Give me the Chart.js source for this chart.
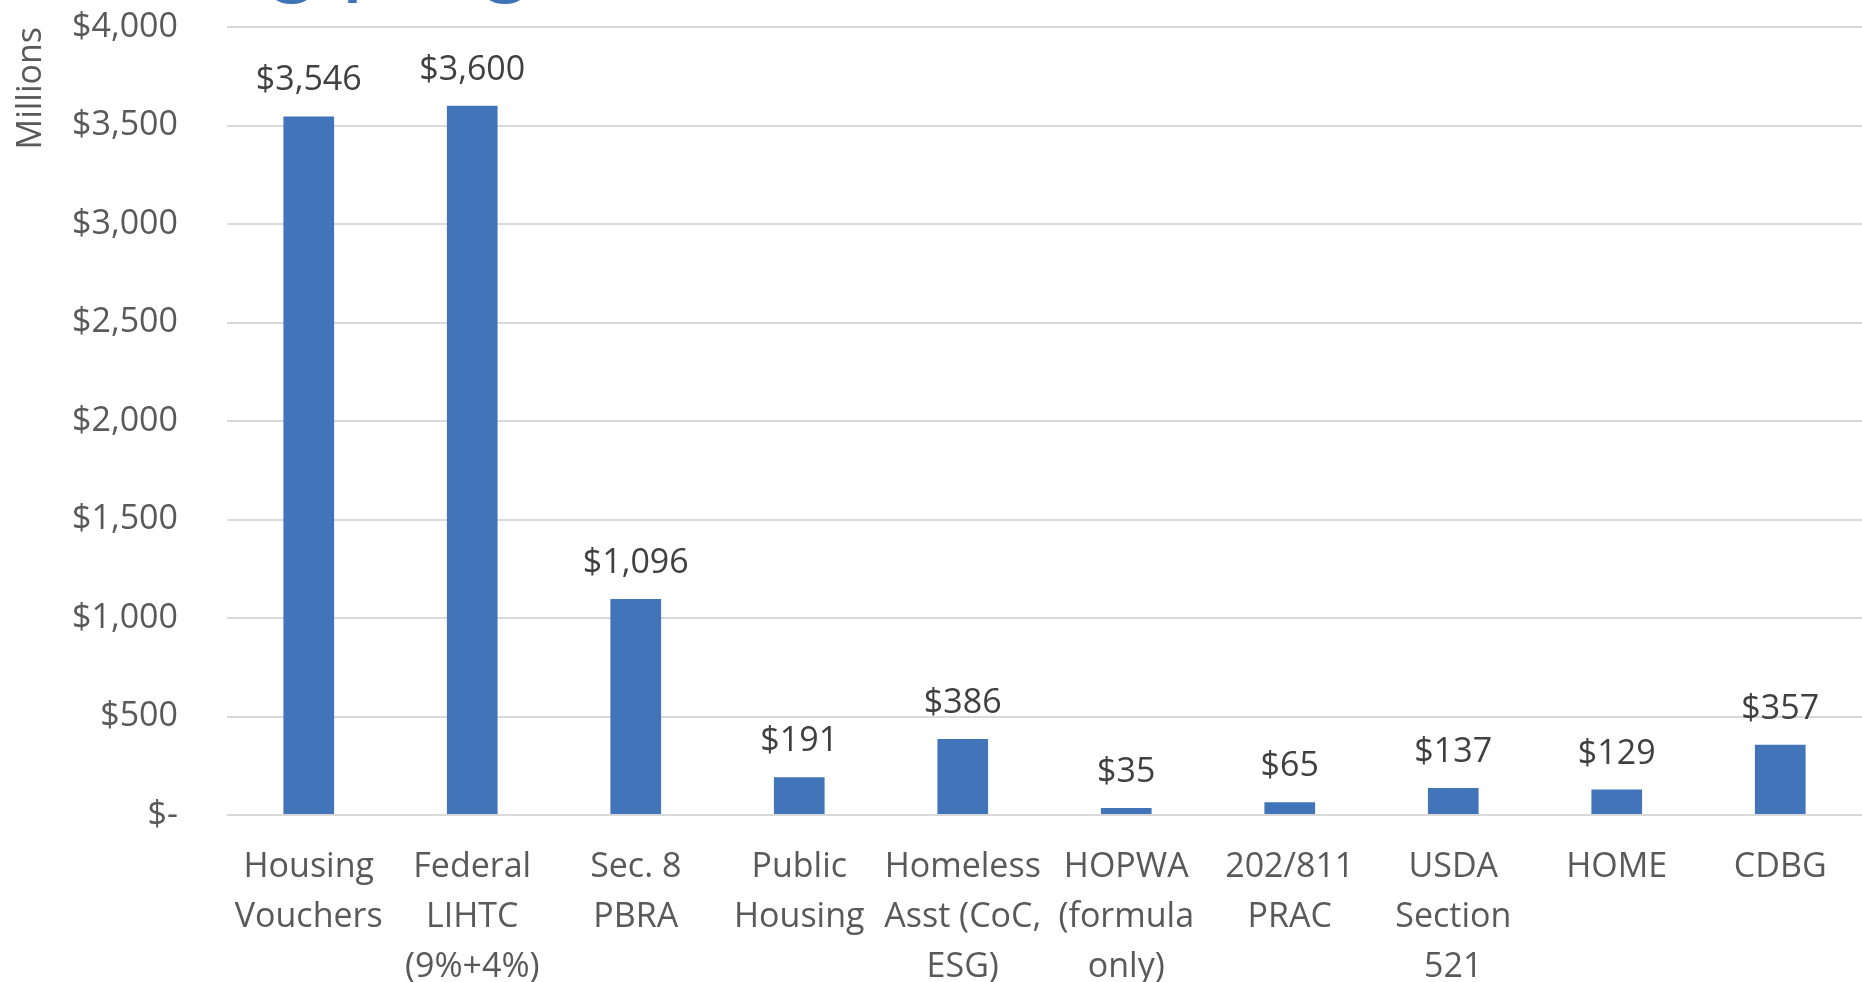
<!DOCTYPE html>
<html>
<head>
<meta charset="utf-8">
<script src="https://cdn.jsdelivr.net/npm/chart.js@4.4.1/dist/chart.umd.min.js"></script>
<style>
    body { margin: 0; overflow: hidden; background: #fff; }
    #wrap { position: relative; width: 1862px; height: 982px; overflow: hidden; }
    #slide-title {
        position: absolute; left: -27px; top: -97px;
        font-family: Lato, sans-serif; font-size: 95px; line-height: 1;
        color: #3F73B8; white-space: nowrap;
    }
</style>
</head>
<body>
<div id="wrap">
    <canvas id="myChart"></canvas>
    <div id="slide-title">Housing programs</div>
</div>
<script>
'use strict';

var categories = [
    ['Housing', 'Vouchers'],
    ['Federal', 'LIHTC', '(9%+4%)'],
    ['Sec. 8', 'PBRA'],
    ['Public', 'Housing'],
    ['Homeless', 'Asst (CoC,', 'ESG)'],
    ['HOPWA', '(formula', 'only)'],
    ['202/811', 'PRAC'],
    ['USDA', 'Section', '521'],
    ['HOME'],
    ['CDBG']
];
var amounts = [3546, 3600, 1096, 191, 386, 35, 65, 137, 129, 357];
var yTicks = [0, 500, 1000, 1500, 2000, 2500, 3000, 3500, 4000];

var gray = '#595959';
var barBlue = '#4174B8';

function dollars(v) {
    if (v === 0) {
        return '$-';
    }
    return '$' + v.toLocaleString('en-US');
}

// draws the $ value above each bar
var barLabels = {
    id: 'barLabels',
    afterDatasetsDraw: function (chart) {
        var ctx = chart.ctx;
        var bars = chart.getDatasetMeta(0).data;
        ctx.save();
        ctx.font = '34px "Open Sans"';
        ctx.fillStyle = '#404040';
        ctx.textAlign = 'center';
        ctx.textBaseline = 'alphabetic';
        for (var i = 0; i < bars.length; i++) {
            ctx.fillText(dollars(amounts[i]), bars[i].x, bars[i].y - 26);
        }
        ctx.restore();
    }
};

var ctx = document.getElementById('myChart').getContext('2d');
var chart = new Chart(ctx, {
    type: 'bar',
    data: {
        labels: categories,
        datasets: [{
            data: amounts,
            backgroundColor: barBlue,
            categoryPercentage: 1,
            barPercentage: 0.31
        }]
    },
    options: {
        responsive: true,
        maintainAspectRatio: false,
        animation: false,
        layout: { padding: { top: 27, left: 6, right: 0, bottom: 0 } },
        plugins: {
            legend: { display: false },
            tooltip: { enabled: false }
        },
        scales: {
            x: {
                afterFit: function (axis) { axis.height = 167; },
                grid: { display: false, drawTicks: false },
                border: { display: false },
                ticks: {
                    color: gray,
                    font: { family: 'Open Sans', size: 34, lineHeight: 1.47 },
                    padding: 27,
                    maxRotation: 0,
                    autoSkip: false
                }
            },
            y: {
                min: 0,
                max: 4000,
                afterFit: function (axis) {
                    axis.width = 221;
                    // tick padding would otherwise push the plot down
                    axis.paddingTop = 0;
                    axis.paddingBottom = 0;
                },
                afterBuildTicks: function (axis) {
                    axis.ticks = yTicks.map(function (v) { return { value: v }; });
                },
                grid: { color: '#D9D9D9', lineWidth: 2, drawTicks: false },
                border: { display: false },
                ticks: {
                    color: gray,
                    font: { family: 'Open Sans', size: 34 },
                    padding: 49,
                    callback: function (v) { return dollars(v); }
                },
                title: {
                    display: true,
                    text: 'Millions',
                    align: 'end',
                    color: gray,
                    font: { family: 'Open Sans', size: 34 },
                    padding: { top: 5, bottom: 0 }
                }
            }
        }
    },
    plugins: [barLabels]
});
</script>
</body>
</html>
